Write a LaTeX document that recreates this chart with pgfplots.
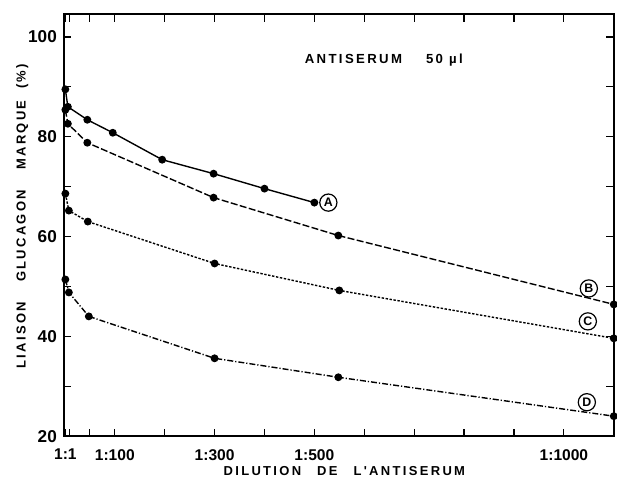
\documentclass[border=0pt]{standalone}
\usepackage{fontspec}
\setmainfont{Liberation Sans}
\newfontfamily\spaced{Liberation Sans}[LetterSpace=18]
\usepackage{pgfplots}
\pgfplotsset{compat=1.18}
\tikzset{circlab/.style={circle, draw, line width=0.6pt, inner sep=0pt, minimum size=8.6pt, font=\bfseries\fontsize{6.2}{6}\selectfont}}
\begin{document}
\begin{tikzpicture}
\begin{axis}[
  scale only axis, width=275.5pt, height=211.5pt,
  xmin=-2, xmax=1100, ymin=20, ymax=104.6,
  axis line style={line width=1pt},
  tick style={line width=0.6pt, black},
  major tick length=3.8pt,
  tick align=inside,
  xtick={1,10,50,100,200,300,400,500,600,700,800,900,1000},
  xticklabels={1:1,,,1:100,,1:300,,1:500,,,,,1:1000},
  ytick={20,30,...,100},
  yticklabels={20,,40,,60,,80,,100},
  xticklabel style={font=\bfseries\fontsize{7.8}{9}\selectfont, yshift=-3pt},
  yticklabel style={font=\bfseries\fontsize{8.6}{9}\selectfont},
  /pgf/number format/assume math mode=true,
  clip=false,
  xlabel={\spaced\bfseries\fontsize{6.5}{8}\selectfont DILUTION\hspace{8pt}DE\hspace{8pt}L'ANTISERUM},
  xlabel style={at={(axis description cs:0.51,0)}, anchor=center, yshift=-17.5pt},
  ylabel={\spaced\bfseries\fontsize{6.5}{8}\selectfont LIAISON\hspace{10pt}GLUCAGON\hspace{10pt}MARQUE\hspace{6pt}(\,\%\,)},
  ylabel style={at={(axis description cs:-0.0755,0.521)}, anchor=center},
  mark options={solid, fill=black},
]
% A
\addplot[black, line width=0.7pt, mark=*, mark size=1.6pt] coordinates {
  (1,89.5) (6,86.0) (45,83.4) (96,80.8) (195,75.4) (298,72.6) (400,69.6) (500,66.8)};
% B
\addplot[black, line width=0.7pt, dash pattern=on 3.5pt off 1.2pt, mark=*, mark size=1.6pt] coordinates {
  (1,85.4) (6,82.6) (45,78.8) (298,67.8) (548,60.2) (1100,46.4)};
% C
\addplot[black, line width=0.7pt, dash pattern=on 1.2pt off 0.8pt, mark=*, mark size=1.6pt] coordinates {
  (1,68.6) (8,65.2) (46,63.0) (300,54.6) (550,49.2) (1100,39.6)};
% D
\addplot[black, line width=0.7pt, dash pattern=on 3pt off 1pt on 0.6pt off 1pt, mark=*, mark size=1.6pt] coordinates {
  (1,51.4) (8,48.8) (48,44.0) (300,35.6) (548,31.8) (1100,24.0)};
\node[anchor=west, inner sep=0pt, font=\spaced\bfseries\fontsize{6.6}{8}\selectfont] at (axis cs:480,95.4) {ANTISERUM\hspace{12pt}50 µl};
\node[circlab] at (axis cs:528,66.8) {A};
\node[circlab] at (axis cs:1050,49.6) {B};
\node[circlab] at (axis cs:1048,43.0) {C};
\node[circlab] at (axis cs:1046,26.8) {D};
\end{axis}
\path (current axis.south west) ++(-32pt,-26pt);
\path (current axis.north east) ++(1pt,7pt);
\end{tikzpicture}
\end{document}
